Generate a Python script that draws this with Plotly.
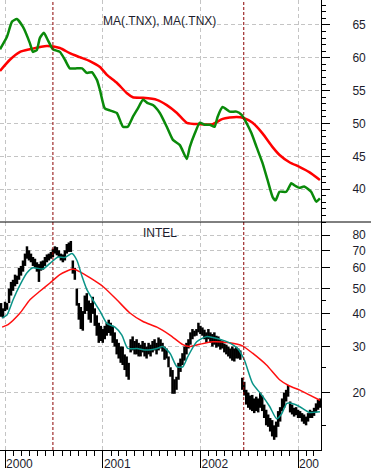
import plotly.graph_objects as go
from plotly.subplots import make_subplots
import pandas as pd

# ---------------- DATA ----------------
# Top panel: moving averages of .TNX (10-yr yield x10)
tnx_fast_dates = ["1999-12-13", "2000-01-08", "2000-01-27", "2000-02-14", "2000-03-08", "2000-04-03",
                  "2000-04-14", "2000-04-29", "2000-05-10", "2000-05-25", "2000-06-09", "2000-06-28",
                  "2000-07-24", "2000-08-12", "2000-08-30", "2000-09-26", "2000-10-15", "2000-11-02",
                  "2000-11-21", "2000-12-10", "2000-12-21", "2001-01-08", "2001-01-27", "2001-02-22",
                  "2001-03-17", "2001-04-04", "2001-04-23", "2001-05-12", "2001-05-31", "2001-06-18",
                  "2001-07-07", "2001-08-02", "2001-08-28", "2001-09-20", "2001-10-16", "2001-11-11",
                  "2001-11-22", "2001-12-11", "2001-12-29", "2002-01-17", "2002-02-05", "2002-02-23",
                  "2002-03-06", "2002-03-25", "2002-04-20", "2002-05-16", "2002-06-04", "2002-06-22",
                  "2002-07-11", "2002-07-30", "2002-08-21", "2002-09-09", "2002-09-28", "2002-10-09",
                  "2002-10-24", "2002-11-18", "2002-12-07", "2002-12-18", "2003-01-06", "2003-01-24",
                  "2003-02-19", "2003-03-10", "2003-03-24"]
tnx_fast = [61.3, 63.2, 65.5, 65.9, 64.7, 62.2,
            60.9, 61.2, 63.0, 63.8, 62.7, 61.3,
            60.9, 59.7, 58.4, 58.4, 58.4, 57.7,
            57.8, 56.6, 55.1, 52.3, 52.0, 51.6,
            49.5, 49.5, 51.0, 52.3, 53.6, 53.1,
            52.8, 51.6, 49.5, 47.5, 46.7, 44.6,
            46.4, 48.5, 50.1, 49.8, 49.8, 49.5,
            51.0, 52.5, 51.8, 51.8, 51.3, 50.1,
            48.5, 46.4, 44.0, 41.4, 38.8, 38.3,
            39.6, 39.6, 40.9, 40.6, 40.2, 40.4,
            39.6, 38.1, 38.6]

tnx_slow_dates = ["1999-12-13", "2000-01-19", "2000-02-26", "2000-04-03", "2000-06-05", "2000-07-24",
                  "2000-08-30", "2000-10-06", "2000-11-13", "2000-12-21", "2001-01-16", "2001-02-22",
                  "2001-04-01", "2001-04-23", "2001-05-31", "2001-07-22", "2001-08-28", "2001-10-05",
                  "2001-11-11", "2001-12-29", "2002-02-16", "2002-03-25", "2002-05-16", "2002-06-14",
                  "2002-07-15", "2002-08-21", "2002-09-28", "2002-10-24", "2002-11-30", "2003-01-06",
                  "2003-02-12", "2003-03-24"]
tnx_slow = [58.0, 59.7, 60.9, 61.3, 61.8, 61.5,
            60.7, 60.1, 59.5, 58.6, 57.4, 56.2,
            54.6, 54.0, 53.9, 53.6, 52.8, 51.6,
            50.1, 49.9, 49.9, 50.7, 51.0, 50.8,
            50.1, 48.5, 46.4, 45.2, 44.1, 43.4,
            42.6, 41.4]

# Bottom panel: INTEL price bars (roughly every 7.5 days), high / low
intc_start = "1999-12-17"
intc_high = [44, 42, 44.5, 44, 50, 53, 54, 56.5, 56, 60, 61, 64, 68, 72.5, 70, 68, 66, 65, 63, 62,
             63.5, 64, 66, 67.5, 68, 69, 71, 72.5, 72, 70, 68, 67.5, 70, 74, 75, 76, 64, 60, 50, 44,
             42.5, 41, 47, 48, 45, 44, 46.5, 42, 39.5, 37, 36, 35, 36, 37, 38, 37, 36, 34, 32, 31,
             30, 30, 28, 27.5, 26, 32, 32.8, 31.5, 32, 31, 30.5, 31.5, 31, 30, 31, 30.5, 31.5, 32, 31, 32.5,
             32, 31, 30, 29.5, 27.5, 25, 24.4, 22.5, 23, 26, 27, 28.3, 30, 31, 32, 34, 35, 34.5, 35, 37,
             36, 35.5, 34.8, 34, 35, 34, 33.5, 34, 33, 32.8, 32, 31.5, 30.8, 30.5, 30, 29.5, 30, 29.5, 30, 29.5,
             29, 22.8, 22, 20.5, 20, 19.5, 19.6, 19, 19.3, 19, 20, 19.5, 18, 17.2, 16.5, 16, 15.7, 15, 15.5, 17,
             17.6, 19, 20, 20.5, 21.4, 18.5, 18, 17.5, 17.6, 17.2, 17, 16.7, 16.5, 16.2, 16.7, 17.2, 17, 17.5, 18.2, 18.8,
             19]
intc_low = [39, 38.5, 41, 41.5, 44, 47, 49, 51, 52, 54, 56, 58, 61, 65, 64, 63, 61, 60, 58, 53,
            58.5, 59, 61, 63, 64, 65, 66, 68, 67, 66, 64, 63, 64, 68, 69, 69, 57, 54, 43, 38,
            35, 34.5, 40, 41, 38, 37, 40, 36, 33, 31, 31.5, 31, 32, 33, 33.8, 33, 31, 30, 28, 27,
            26, 25.5, 24.4, 23, 22.4, 28.5, 29, 28, 28, 27.5, 27.5, 28.5, 27.5, 27, 28, 27.5, 28.5, 29, 28, 29,
            29.5, 28.7, 26.7, 27, 25, 23, 19.8, 19.8, 20.5, 22.4, 24, 25.5, 26.5, 28, 29.5, 30.5, 32, 32.8, 33, 34,
            33.5, 33, 32, 31, 32, 31, 30, 30.5, 29.7, 30, 29.2, 29.5, 28.5, 28, 27.5, 27, 26.5, 26.3, 27, 27,
            26.7, 20.5, 19.5, 18, 17.5, 17.2, 17, 16.7, 17, 16.8, 17.5, 17, 16, 15, 14.8, 14.2, 13.6, 13.2, 13.5, 14.8,
            15.5, 17, 17.5, 18.5, 19.3, 16.8, 16.5, 16.2, 16.4, 16, 16, 15.5, 15.2, 15, 15.5, 16, 16, 16.3, 16.8, 17.2,
            17.5]

intc_slow_dates = ["1999-12-21", "2000-01-12", "2000-02-26", "2000-04-03", "2000-05-10", "2000-06-17",
                   "2000-07-24", "2000-09-11", "2000-10-06", "2000-11-13", "2001-01-01", "2001-02-22",
                   "2001-04-12", "2001-05-31", "2001-07-22", "2001-09-09", "2001-10-27", "2001-11-22",
                   "2001-12-29", "2002-02-16", "2002-04-20", "2002-06-07", "2002-07-15", "2002-09-05",
                   "2002-10-24", "2002-11-30", "2003-01-06", "2003-02-12", "2003-03-24"]
intc_slow = [35.6, 36.4, 40.3, 45.3, 48.8, 52.5,
             56.5, 59.4, 58.0, 55.0, 50.9, 45.3,
             40.3, 37.4, 35.6, 33.2, 30.5, 30.0,
             30.6, 31.3, 31.0, 30.2, 28.3, 25.5,
             22.4, 21.2, 20.5, 19.6, 18.7]

intc_fast_dates = ["1999-12-21", "2000-01-08", "2000-01-31", "2000-02-26", "2000-03-23", "2000-04-14",
                   "2000-05-22", "2000-06-17", "2000-07-17", "2000-08-12", "2000-09-07", "2000-09-26",
                   "2000-10-15", "2000-11-02", "2000-11-24", "2000-12-21", "2001-01-16", "2001-02-15",
                   "2001-03-13", "2001-04-04", "2001-05-08", "2001-06-14", "2001-07-22", "2001-08-13",
                   "2001-09-09", "2001-10-05", "2001-10-27", "2001-11-15", "2001-12-18", "2002-01-25",
                   "2002-03-14", "2002-04-20", "2002-05-20", "2002-06-14", "2002-07-15", "2002-08-18",
                   "2002-09-17", "2002-10-13", "2002-11-01", "2002-11-20", "2002-12-07", "2003-01-06",
                   "2003-02-12", "2003-03-24"]
intc_fast = [38.6, 39.6, 45.3, 51.6, 57.4, 60.0,
             59.4, 62.4, 66.0, 65.7, 68.0, 64.0,
             55.6, 49.5, 45.3, 41.0, 36.8, 35.6,
             33.2, 29.5, 29.5, 29.1, 29.5, 30.0,
             28.3, 25.1, 25.1, 27.5, 31.3, 32.8,
             32.0, 31.0, 29.5, 26.7, 21.7, 19.6,
             17.7, 15.9, 16.6, 18.2, 18.2, 17.7,
             16.8, 16.9]

event_dates = ["2000-06-28", "2002-06-12"]
year_ticks = ["2000-01-01", "2001-01-01", "2002-01-01", "2003-01-01"]
year_labels = ["2000", "2001", "2002", "200"]
top_ticks = [40, 45, 50, 55, 60, 65]
bottom_ticks = [20, 30, 40, 50, 60, 70, 80]
bottom_minor = [15, 25, 35, 45]

# ---------------- FIGURE ----------------
FONT = "Liberation Sans, Arial, sans-serif"
TXT = "#1c1c2c"
GRID = "#c4c4c4"

fig = make_subplots(rows=2, cols=1, shared_xaxes=True, vertical_spacing=0,
                    row_heights=[222, 228])

fig.add_trace(go.Scatter(x=tnx_slow_dates, y=tnx_slow, mode="lines",
                         line=dict(color="#ff0000", width=2.5, shape="spline", smoothing=0.6)),
              row=1, col=1)
fig.add_trace(go.Scatter(x=tnx_fast_dates, y=tnx_fast, mode="lines",
                         line=dict(color="#0a8a0a", width=2.5, shape="spline", smoothing=0.5)),
              row=1, col=1)

intc_dates = pd.date_range(intc_start, periods=len(intc_high), freq="7D11h")
fig.add_trace(go.Ohlc(x=intc_dates, open=intc_low, high=intc_high, low=intc_low, close=intc_high,
                      increasing=dict(line=dict(color="black", width=2.5)),
                      decreasing=dict(line=dict(color="black", width=2.5)),
                      tickwidth=0),
              row=2, col=1)
fig.add_trace(go.Scatter(x=intc_slow_dates, y=intc_slow, mode="lines",
                         line=dict(color="#ff1010", width=1.5, shape="spline", smoothing=0.6)),
              row=2, col=1)
fig.add_trace(go.Scatter(x=intc_fast_dates, y=intc_fast, mode="lines",
                         line=dict(color="#0a9488", width=1.5, shape="spline", smoothing=0.6)),
              row=2, col=1)

xrange = ["1999-12-13", "2003-03-28"]
fig.update_xaxes(range=xrange, rangeslider_visible=False, showgrid=True, gridcolor=GRID,
                 griddash="4px,3px", gridwidth=1, tickvals=year_ticks, zeroline=False)
fig.update_xaxes(row=1, col=1, showticklabels=False, ticks="")
fig.update_xaxes(row=2, col=1, ticktext=year_labels, ticks="outside", ticklen=17, tickwidth=1,
                 tickcolor="black", showline=True, linecolor="black", linewidth=1,
                 ticklabelposition="outside right", ticklabelstandoff=3,
                 tickfont=dict(family=FONT, size=12, color=TXT),
                 minor=dict(ticks="outside", ticklen=5, tickcolor="black", dtick="M1",
                            tick0="2000-01-01", showgrid=False))

fig.update_yaxes(row=1, col=1, range=[35, 68.8], side="right", tickvals=top_ticks,
                 showgrid=True, gridcolor=GRID, griddash="4px,3px", zeroline=False,
                 showline=True, linecolor="black", ticks="outside", ticklen=8, tickcolor="black",
                 ticklabelstandoff=20, tickfont=dict(family=FONT, size=12, color=TXT),
                 minor=dict(ticks="outside", ticklen=4, tickcolor="black", dtick=1, tick0=0,
                            showgrid=False))
fig.update_yaxes(row=2, col=1, type="log", range=[1.0817, 1.9533], side="right",
                 tickvals=bottom_ticks, showgrid=True, gridcolor=GRID, griddash="4px,3px",
                 zeroline=False, showline=True, linecolor="black", ticks="outside", ticklen=8,
                 tickcolor="black", ticklabelstandoff=20,
                 tickfont=dict(family=FONT, size=12, color=TXT),
                 minor=dict(ticks="outside", ticklen=4, tickcolor="black", tickvals=bottom_minor,
                            showgrid=False))

for d in event_dates:
    fig.add_shape(type="line", xref="x", yref="paper", x0=d, x1=d, y0=0, y1=1,
                  line=dict(color="#8b0000", width=1, dash="3px,2px"))

fig.add_shape(type="line", xref="paper", yref="paper", x0=0, x1=371 / 321,
              y0=228 / 450, y1=228 / 450, line=dict(color="black", width=1))

fig.add_annotation(text="MA(.TNX), MA(.TNX)", xref="paper", yref="paper", x=0.498, y=1 - 12 / 450,
                   showarrow=False, font=dict(family=FONT, size=12, color=TXT))
fig.add_annotation(text="INTEL", xref="paper", yref="paper", x=0.498, y=1 - 233 / 450,
                   showarrow=False, font=dict(family=FONT, size=12, color=TXT))

fig.update_layout(width=371, height=470, margin=dict(l=0, r=50, t=0, b=20),
                  plot_bgcolor="white", paper_bgcolor="white", showlegend=False)

fig.write_html("out.html")
